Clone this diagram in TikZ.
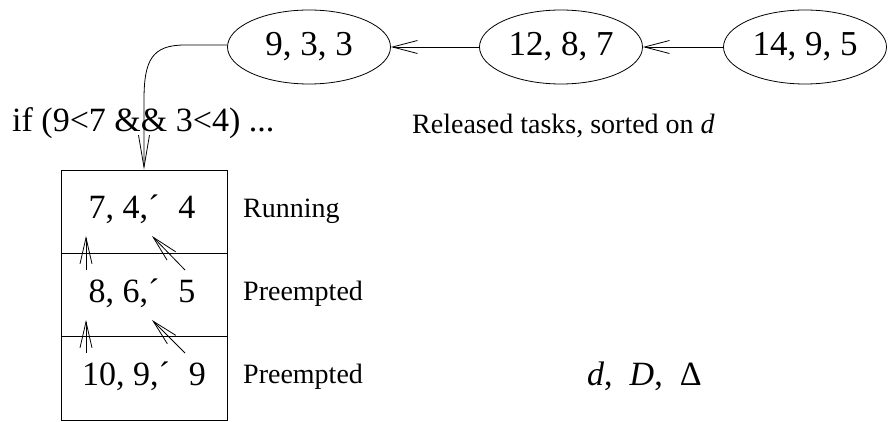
\documentclass[tikz,border=0pt]{standalone}
\usepackage{fontspec}
\setmainfont{Liberation Serif}
\usepackage{tikz}
\usetikzlibrary{shapes.geometric}
\usetikzlibrary{arrows.meta}

\tikzset{
	task/.style={draw, ellipse, line width=0.8pt, minimum width=163pt, minimum height=74pt, inner sep=0pt, font=\fontsize{35}{40}\selectfont},
	slot/.style={draw, rectangle, line width=0.8pt, minimum width=166pt, minimum height=83.3pt, inner sep=0pt},
	big/.style={font=\fontsize{34}{40}\selectfont, inner sep=0pt},
	small/.style={font=\fontsize{28}{32}\selectfont, inner sep=0pt},
	longtip/.style={-{Straight Barb[length=25pt, width=13pt]}, line width=0.8pt},
	downtip/.style={-{Straight Barb[length=32pt, width=11pt]}, line width=0.8pt},
	pushtip/.style={-{Straight Barb[length=26pt, width=12pt]}, line width=0.8pt}
}

\begin{document}
\begin{tikzpicture}[x=1pt, y=-1pt]
	\useasboundingbox (0,0) rectangle (888,422);

	% released tasks
	\node[task] (a) at (309,47) {9, 3, 3};
	\node[task] (b) at (561,47) {12, 8, 7};
	\node[task] (c) at (805,47) {14, 9, 5};

	\draw[longtip] (c) -- (b);
	\draw[longtip] (b) -- (a);

	% stack
	\node[slot] (s1) at (144,211.6) {};
	\node[slot] (s2) at (144,295) {};
	\node[slot] (s3) at (144,378.4) {};

	\node[big, anchor=base] (t1) at (142,218) {7, 4,\textasciiacute\hspace{0.55em}4};
	\node[big, anchor=base] (t2) at (142,302) {8, 6,\textasciiacute\hspace{0.55em}5};
	\node[big, anchor=base] (t3) at (144,385) {10, 9,\textasciiacute\hspace{0.55em}9};

	\node[small, anchor=base west] (l1) at (243,217) {Running};
	\node[small, anchor=base west] (l2) at (243,300) {Preempted};
	\node[small, anchor=base west] (l3) at (243,383) {Preempted};

	\node[big, anchor=base west] (cond) at (12,132) {if (9<7 \&\& 3<4) ...};
	\node[small, anchor=base west] (note) at (412,134) {Released tasks, sorted on \textit{d}};
	\node[big, anchor=base west] (key) at (587,385) {\textit{d},\hspace{0.5em}\textit{D},\hspace{0.5em}Δ};

	% pointers between slots
	\coordinate (p1) at (86,270);
	\coordinate (q1) at (86,236);
	\coordinate (p2) at (86,353);
	\coordinate (q2) at (86,320);
	\coordinate (u1) at (185,270);
	\coordinate (v1) at (152,236);
	\coordinate (u2) at (185,353);
	\coordinate (v2) at (152,320);

	\draw[pushtip] (p1) -- (q1);
	\draw[pushtip] (p2) -- (q2);
	\draw[pushtip] (u1) -- (v1);
	\draw[pushtip] (u2) -- (v2);

	% head of the queue goes to the stack
	\coordinate (k) at (185,45);
	\draw[downtip] (a.west |- k) -- (k) .. controls (152,45) and (144,60) .. (144,100) -- (s1.north -| 144,0);
\end{tikzpicture}
\end{document}
